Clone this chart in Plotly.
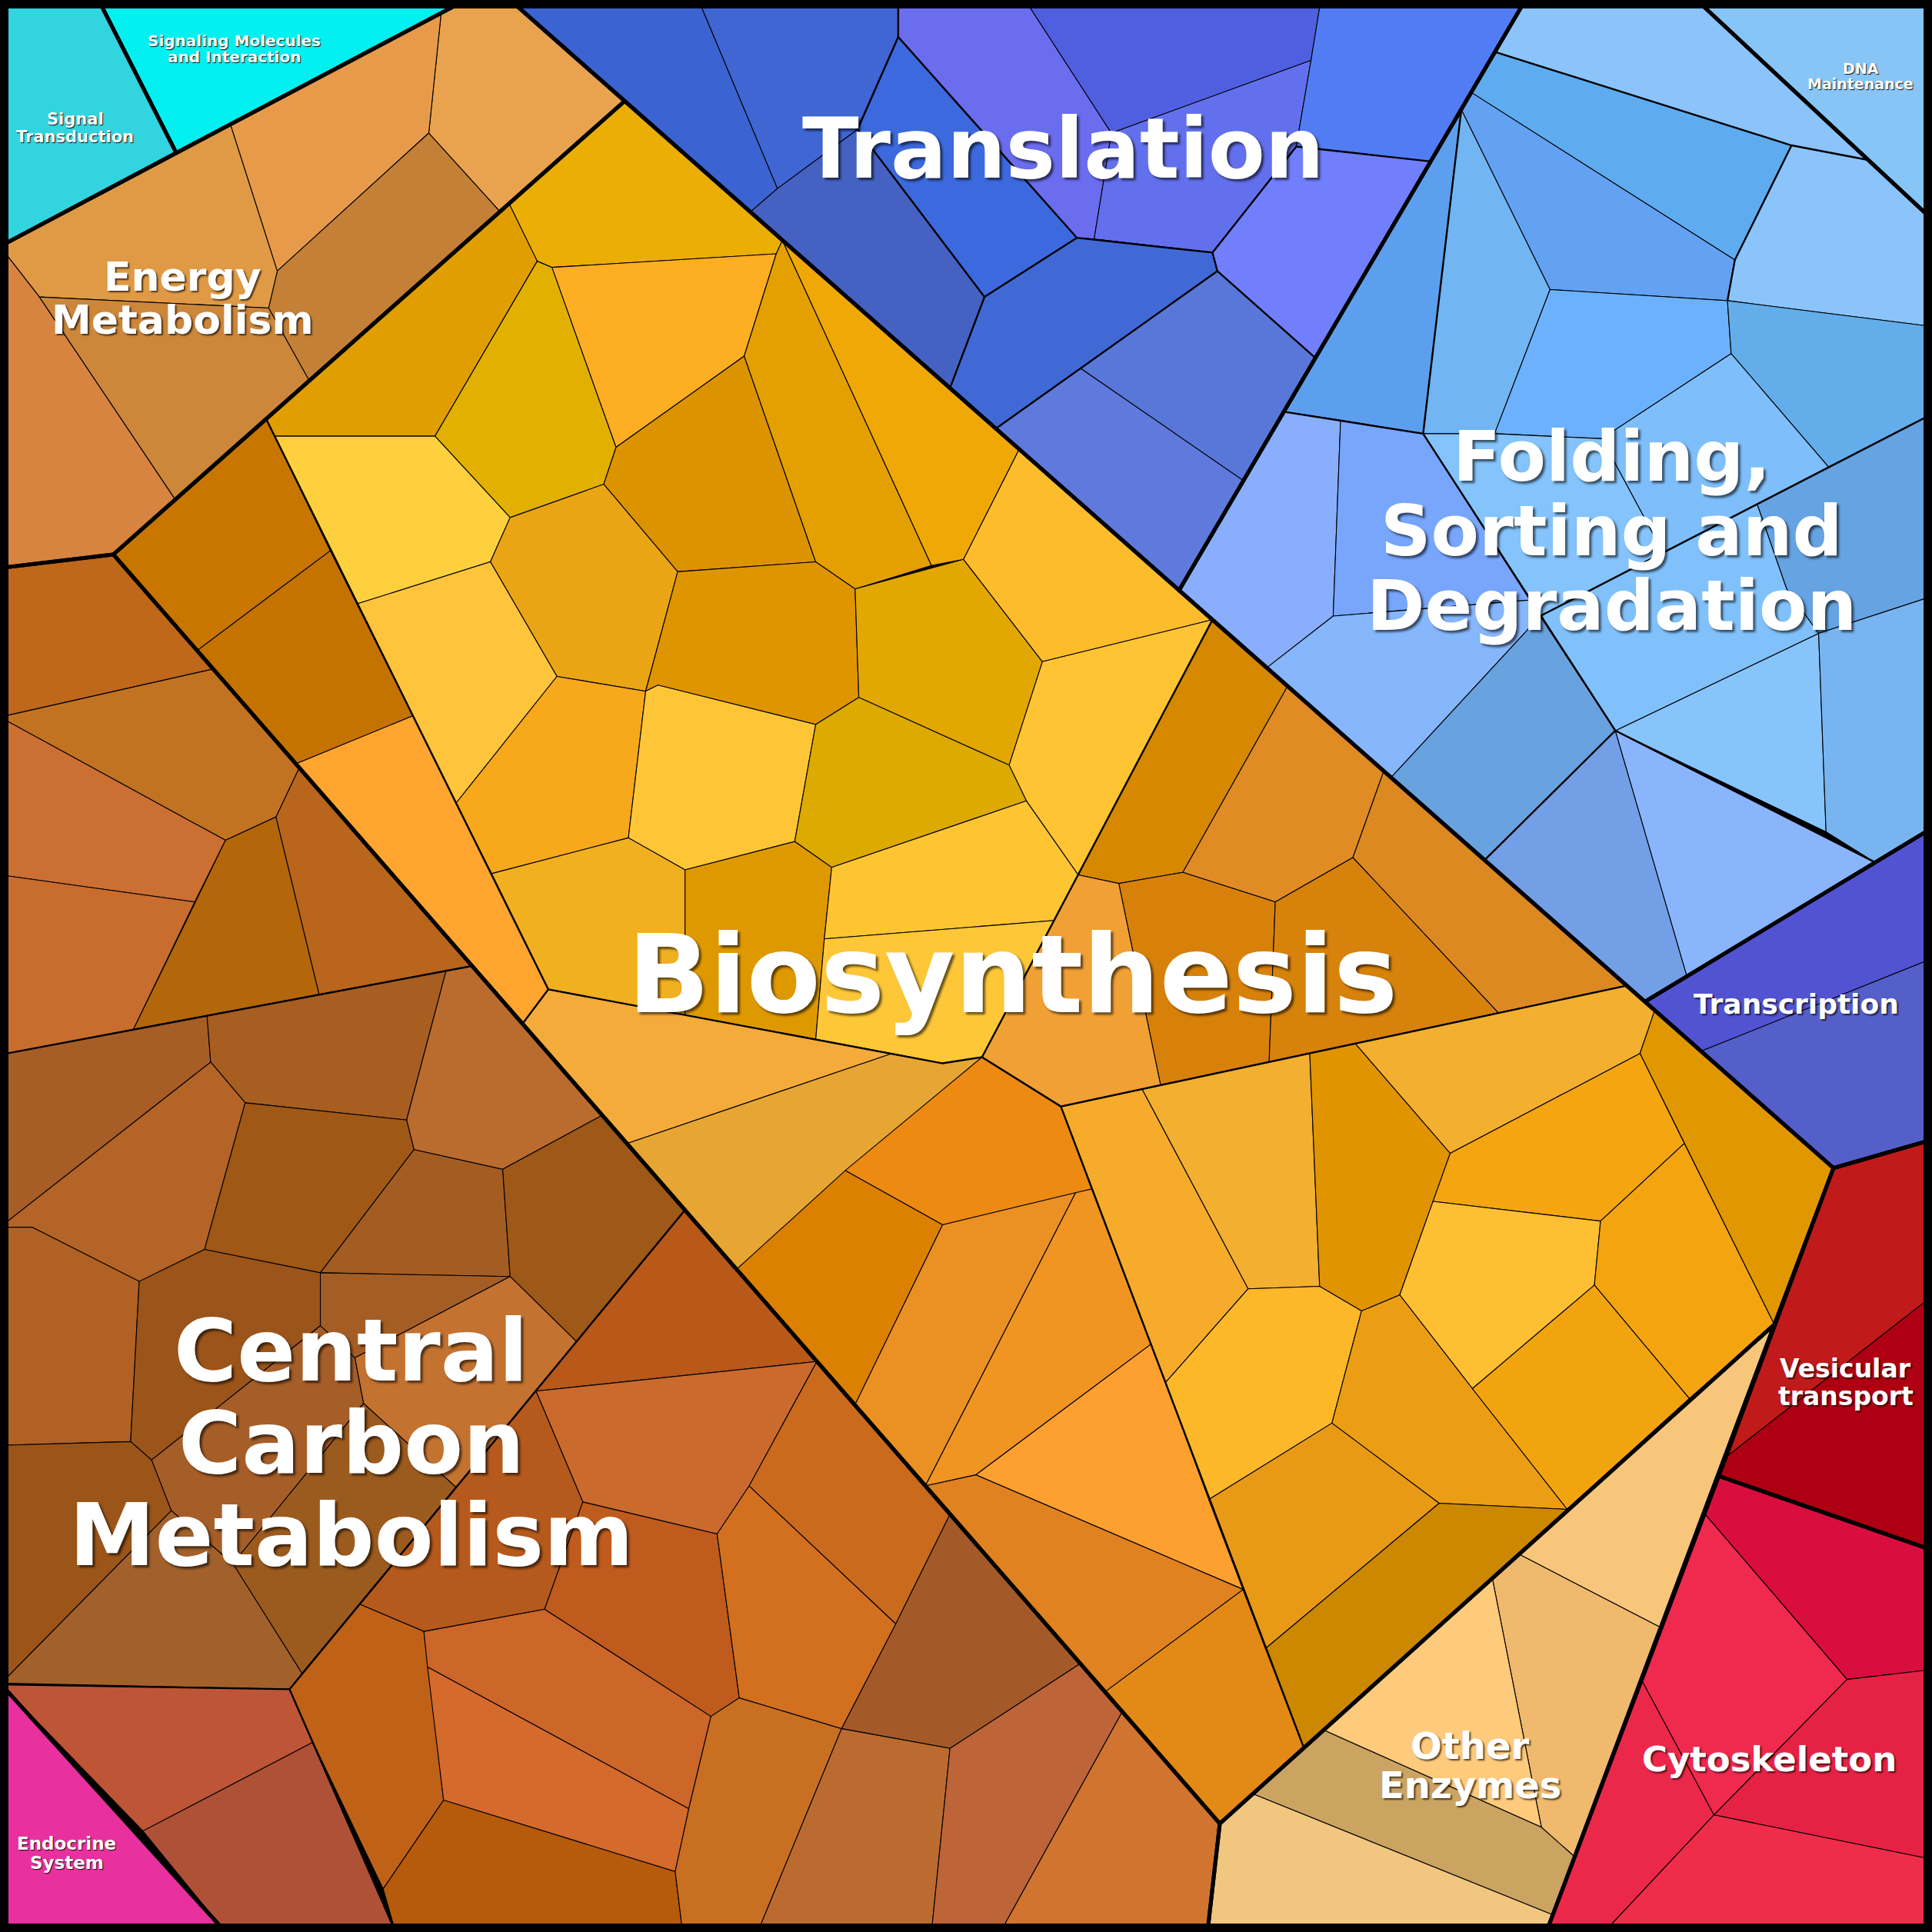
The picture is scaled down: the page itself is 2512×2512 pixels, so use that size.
import plotly.graph_objects as go

# ---------------- data (display units, 0..1568, y downwards) ----------------
region_names = ["Signal Transduction", "Signaling Molecules and Interaction", "Energy Metabolism",
                "Translation", "DNA Maintenance", "Folding, Sorting and Degradation", "Transcription",
                "Vesicular transport", "Cytoskeleton", "Other Enzymes", "Biosynthesis",
                "Central Carbon Metabolism", "Endocrine System"]
region_polys = [
    [(0, 0), (80, 0), (143, 124), (0, 200)],
    [(80, 0), (378, 0), (143, 124)],
    [(0, 200), (378, 0), (414, 0), (507, 82), (92, 450), (0, 461)],
    [(414, 0), (1238, 0), (957, 479)],
    [(1377, 0), (1568, 0), (1568, 178)],
    [(1238, 0), (1377, 0), (1568, 178), (1568, 672), (1335, 813), (957, 479)],
    [(1335, 813), (1568, 672), (1568, 925), (1488, 948)],
    [(1488, 948), (1568, 925), (1568, 1258), (1395, 1198)],
    [(1395, 1198), (1568, 1258), (1568, 1568), (1255, 1568)],
    [(1440, 1075), (1255, 1568), (980, 1568), (990, 1480)],
    [(507, 82), (1488, 948), (1440, 1075), (990, 1480), (92, 450)],
    [(0, 461), (92, 450), (990, 1480), (980, 1568), (183, 1568), (0, 1366)],
    [(0, 1366), (183, 1568), (0, 1568)],
]

signal_colors = ["#32D4E0"]
signal_cells = [[(0, 0), (80, 0), (143, 124), (0, 200)]]
signaling_colors = ["#03F0F0"]
signaling_cells = [[(80, 0), (378, 0), (143, 124)]]
dna_colors = ["#86C5F5"]
dna_cells = [[(1377, 0), (1568, 0), (1568, 178)]]
endocrine_colors = ["#E8309E"]
endocrine_cells = [[(0, 1366), (183, 1568), (0, 1568)]]

energy_colors = ["#E9A34F", "#E79B4A", "#C48037", "#E09A46", "#D88441", "#CD873A"]
energy_cells = [
    [(358, 11), (378, 0), (414, 0), (507, 82), (406, 172), (348, 108)],
    [(187, 101), (358, 11), (348, 108), (225, 220)],
    [(348, 108), (406, 172), (251, 309), (218, 250), (225, 220)],
    [(0, 200), (187, 101), (225, 220), (218, 250), (32, 241)],
    [(0, 200), (32, 241), (142, 405), (92, 450), (0, 461)],
    [(32, 241), (218, 250), (251, 309), (142, 405)],
]

translation_colors = ["#3B63D1", "#4066D4", "#4562C2", "#3C69DD", "#6A6DEE", "#4F5FDF",
                      "#6370EE", "#527CF4", "#717FFC", "#4169D6", "#5977D8", "#5F7ADC"]
translation_cells = [
    [(414, 0), (567, 0), (631, 153), (609, 172)],
    [(567, 0), (729, 0), (729, 30), (696, 105), (631, 153)],
    [(609, 172), (631, 153), (696, 105), (799, 241), (771, 315)],
    [(729, 30), (874, 193), (799, 241), (696, 105)],
    [(729, 0), (832, 0), (902, 108), (888, 194), (874, 193), (729, 30)],
    [(832, 0), (1072, 0), (1064, 49), (902, 108)],
    [(902, 108), (1064, 49), (1052, 119), (984, 205), (888, 194)],
    [(1072, 0), (1238, 0), (1161, 131), (1052, 119), (1064, 49)],
    [(1052, 119), (1161, 131), (1067, 290), (988, 220), (984, 205)],
    [(799, 241), (874, 193), (888, 194), (984, 205), (988, 220), (877, 299), (808, 348), (771, 315)],
    [(988, 220), (1067, 290), (1009, 390), (877, 299)],
    [(877, 299), (1009, 390), (957, 479), (808, 348)],
]

folding_colors = ["#8BC3FB", "#5EACEF", "#63A2F3", "#8AC4FB", "#71B5F2", "#5C9FEE", "#6CB1FD",
                  "#63AEEA", "#7EBEFB", "#65A3E3", "#89AEFD", "#77A6FC", "#84C3FB", "#86B6FC",
                  "#68A2DF", "#88C4FC", "#78B5F0", "#739FE6", "#8AB5FD", "#80C1FB"]
folding_cells = [
    [(1238, 0), (1377, 0), (1517, 130), (1454, 118), (1213, 42)],
    [(1213, 42), (1454, 118), (1408, 211), (1194, 75)],
    [(1194, 75), (1408, 211), (1402, 244), (1258, 235), (1186, 89)],
    [(1454, 118), (1517, 130), (1568, 178), (1568, 265), (1402, 244), (1408, 211)],
    [(1186, 89), (1258, 235), (1213, 352), (1155, 352)],
    [(1186, 89), (1155, 352), (1041, 334)],
    [(1258, 235), (1402, 244), (1405, 287), (1300, 356), (1213, 352)],
    [(1402, 244), (1568, 265), (1568, 336), (1484, 379), (1405, 287)],
    [(1405, 287), (1484, 379), (1350, 449), (1300, 356)],
    [(1484, 379), (1568, 336), (1568, 484), (1476, 514), (1450, 478), (1426, 409)],
    [(1041, 334), (1088, 341), (1082, 500), (1028, 542), (957, 479)],
    [(1088, 341), (1155, 352), (1242, 487), (1082, 500)],
    [(1155, 352), (1213, 352), (1300, 356), (1350, 449), (1250, 500)],
    [(1028, 542), (1082, 500), (1242, 487), (1250, 500), (1129, 631)],
    [(1129, 631), (1250, 500), (1311, 593), (1205, 698)],
    [(1311, 593), (1476, 514), (1482, 675)],
    [(1476, 514), (1568, 484), (1568, 672), (1522, 700), (1482, 675)],
    [(1205, 698), (1311, 593), (1369, 792), (1335, 813)],
    [(1311, 593), (1522, 700), (1369, 792)],
    [(1426, 409), (1450, 478), (1476, 514), (1311, 593), (1250, 500)],
]

transcription_colors = ["#5253D3", "#545FC9"]
transcription_cells = [
    [(1335, 813), (1568, 672), (1568, 778), (1381, 853)],
    [(1381, 853), (1568, 778), (1568, 925), (1488, 948)],
]

vesicular_colors = ["#C01A1A", "#AE0012"]
vesicular_cells = [
    [(1488, 948), (1568, 925), (1568, 1052), (1399, 1184)],
    [(1399, 1184), (1568, 1052), (1568, 1258), (1395, 1198)],
]

cytoskeleton_colors = ["#DA0D3F", "#F0294F", "#E62244", "#EC284A", "#EF2D4B"]
cytoskeleton_cells = [
    [(1395, 1198), (1568, 1258), (1568, 1355), (1499, 1363), (1383, 1228)],
    [(1383, 1228), (1499, 1363), (1391, 1473), (1332, 1363)],
    [(1499, 1363), (1568, 1355), (1568, 1509), (1391, 1473)],
    [(1332, 1363), (1391, 1473), (1302, 1568), (1255, 1568)],
    [(1391, 1473), (1568, 1509), (1568, 1568), (1302, 1568)],
]

enzymes_colors = ["#F8C67B", "#EFBA6D", "#FECA7B", "#CBA461", "#F1C67F"]
enzymes_cells = [
    [(1440, 1075), (1348, 1321), (1234, 1262), (1211, 1280)],
    [(1234, 1262), (1348, 1321), (1278, 1507), (1251, 1483), (1211, 1280)],
    [(1211, 1280), (1251, 1483), (1074, 1404)],
    [(1074, 1404), (1251, 1483), (1278, 1507), (1260, 1554), (1017, 1456)],
    [(1017, 1456), (1260, 1554), (1255, 1568), (980, 1568), (990, 1480)],
]

biosynthesis_colors = [
    "#C87600", "#C47200", "#FFA530",
    "#EBAE05", "#E09E00", "#E2B000", "#FEAE23", "#FED03E", "#DC9300", "#E3A000", "#EFA806",
    "#EAA515", "#FEC43B", "#DF9500", "#E2A700", "#FDBC2C", "#FEC434", "#F7A81B", "#FEC636",
    "#DCAA00", "#F1B020", "#DF9900", "#FEC532", "#FDC737",
    "#D68800", "#E08B24", "#DC8921", "#D8810A", "#D7820B", "#F0A034",
    "#F5AB3A", "#E7A633", "#EC8A12", "#DB8000", "#EB9023", "#F09422", "#FEA02F", "#E0821F", "#E38915",
    "#F6AB2A", "#F2AF30", "#E09400", "#F3AF2F", "#E19800", "#F4A50F", "#FEBF33", "#F3A40F",
    "#FDB82A", "#EB9E14", "#F2A40F", "#E89A17", "#CB8800",
]
biosynthesis_cells = [
    [(216, 340), (268, 447), (160, 528), (92, 450)],
    [(268, 447), (335, 581), (240, 620), (160, 528)],
    [(335, 581), (445, 803), (424, 831), (240, 620)],
    [(413, 165), (507, 82), (635, 195), (630, 206), (448, 217), (436, 212)],
    [(216, 340), (413, 165), (436, 212), (353, 354), (223, 354)],
    [(436, 212), (448, 217), (500, 363), (490, 393), (414, 420), (353, 354)],
    [(448, 217), (630, 206), (604, 289), (500, 363)],
    [(223, 354), (353, 354), (414, 420), (398, 456), (290, 490)],
    [(500, 363), (604, 289), (662, 456), (550, 464), (490, 393)],
    [(604, 289), (630, 206), (635, 195), (756, 459), (694, 478), (662, 456)],
    [(635, 195), (827, 365), (782, 454), (756, 459)],
    [(398, 456), (414, 420), (490, 393), (550, 464), (524, 561), (452, 549)],
    [(290, 490), (398, 456), (452, 549), (370, 652)],
    [(550, 464), (662, 456), (694, 478), (697, 566), (662, 588), (534, 556), (524, 561)],
    [(694, 478), (782, 454), (846, 537), (819, 621), (697, 566)],
    [(782, 454), (827, 365), (984, 503), (846, 537)],
    [(846, 537), (984, 503), (875, 710), (833, 650), (819, 621)],
    [(370, 652), (452, 549), (524, 561), (510, 680), (399, 709)],
    [(524, 561), (534, 556), (662, 588), (645, 683), (556, 706), (510, 680)],
    [(662, 588), (697, 566), (819, 621), (833, 650), (675, 704), (645, 683)],
    [(399, 709), (510, 680), (556, 706), (556, 824), (445, 803)],
    [(556, 706), (645, 683), (675, 704), (669, 762), (662, 844), (556, 824)],
    [(675, 704), (833, 650), (875, 710), (856, 747), (669, 762)],
    [(669, 762), (856, 747), (797, 858), (765, 863), (662, 844)],
    [(984, 503), (1045, 557), (960, 708), (908, 717), (875, 710)],
    [(1045, 557), (1123, 626), (1098, 696), (1035, 732), (960, 708)],
    [(1123, 626), (1320, 800), (1216, 822), (1098, 696)],
    [(960, 708), (1035, 732), (1030, 862), (942, 881), (908, 717)],
    [(1035, 732), (1098, 696), (1216, 822), (1030, 862)],
    [(875, 710), (908, 717), (942, 881), (861, 898), (797, 858)],
    [(424, 831), (445, 803), (724, 855), (509, 928)],
    [(509, 928), (724, 855), (765, 863), (797, 858), (598, 1030)],
    [(797, 858), (861, 898), (886, 965), (765, 994), (686, 950)],
    [(686, 950), (765, 994), (694, 1140), (598, 1030)],
    [(765, 994), (873, 968), (751, 1206), (694, 1140)],
    [(873, 968), (886, 965), (934, 1091), (792, 1197), (751, 1206)],
    [(792, 1197), (934, 1091), (1009, 1290)],
    [(751, 1206), (792, 1197), (1009, 1290), (897, 1373)],
    [(897, 1373), (1009, 1290), (1058, 1418), (990, 1480)],
    [(861, 898), (927, 884), (1013, 1046), (946, 1122)],
    [(927, 884), (1063, 855), (1071, 1044), (1013, 1046)],
    [(1063, 855), (1100, 847), (1177, 936), (1136, 1051), (1105, 1064), (1071, 1044)],
    [(1100, 847), (1320, 800), (1343, 820), (1331, 855), (1177, 936)],
    [(1343, 820), (1488, 948), (1440, 1075), (1367, 928), (1331, 855)],
    [(1177, 936), (1331, 855), (1367, 928), (1299, 991), (1163, 975)],
    [(1163, 975), (1299, 991), (1294, 1043), (1195, 1127), (1136, 1051)],
    [(1299, 991), (1367, 928), (1440, 1075), (1371, 1135), (1294, 1043)],
    [(1013, 1046), (1071, 1044), (1105, 1064), (1081, 1155), (981, 1217), (946, 1122)],
    [(1105, 1064), (1136, 1051), (1195, 1127), (1272, 1225), (1168, 1220), (1081, 1155)],
    [(1195, 1127), (1294, 1043), (1371, 1135), (1272, 1225)],
    [(981, 1217), (1081, 1155), (1168, 1220), (1027, 1338)],
    [(1168, 1220), (1272, 1225), (1058, 1418), (1027, 1338)],
]

carbon_colors = [
    "#BF671A", "#C17322", "#CB6F32", "#C86D2D", "#B3660A", "#B9651B",
    "#A65D26", "#A85E20", "#B96C2E", "#B36426", "#9F5815", "#A35D22", "#9E5817",
    "#B06123", "#9B5419", "#A45E25", "#C47230", "#A65E28", "#9C5B1E", "#A2612B", "#9C5519",
    "#BE5536", "#AF5137", "#BF6217", "#CD6629", "#D46A2C", "#B65A0C", "#B85819", "#CA6A2D",
    "#B55A1C", "#BF5B1C", "#C96A1D", "#D2701F", "#A45A28", "#C96F21", "#BB6B30", "#BD6438", "#D1742F",
]
carbon_cells = [
    [(0, 461), (92, 450), (173, 543), (0, 582)],
    [(0, 582), (173, 543), (243, 623), (224, 663), (183, 682)],
    [(0, 582), (183, 682), (158, 732), (0, 710)],
    [(0, 710), (158, 732), (108, 836), (0, 856)],
    [(183, 682), (224, 663), (259, 807), (108, 836)],
    [(224, 663), (243, 623), (383, 784), (259, 807)],
    [(0, 856), (168, 824), (171, 862), (0, 996)],
    [(168, 824), (362, 788), (330, 909), (199, 895), (171, 862)],
    [(362, 788), (383, 784), (489, 905), (408, 949), (336, 933), (330, 909)],
    [(0, 996), (171, 862), (199, 895), (166, 1014), (113, 1040), (26, 996)],
    [(199, 895), (330, 909), (336, 933), (260, 1033), (166, 1014)],
    [(336, 933), (408, 949), (414, 1036), (260, 1033)],
    [(408, 949), (489, 905), (556, 982), (468, 1089), (414, 1036)],
    [(0, 996), (26, 996), (113, 1040), (106, 1170), (0, 1173)],
    [(113, 1040), (166, 1014), (260, 1033), (260, 1076), (123, 1185), (106, 1170)],
    [(260, 1033), (414, 1036), (288, 1102), (260, 1076)],
    [(288, 1102), (414, 1036), (468, 1089), (370, 1207), (295, 1139)],
    [(260, 1076), (288, 1102), (295, 1139), (189, 1269), (139, 1226), (123, 1185)],
    [(295, 1139), (370, 1207), (245, 1358), (189, 1269)],
    [(0, 1367), (139, 1226), (189, 1269), (245, 1358), (235, 1371)],
    [(0, 1173), (106, 1170), (123, 1185), (139, 1226), (0, 1367)],
    [(0, 1366), (235, 1371), (254, 1414), (116, 1486)],
    [(116, 1486), (254, 1414), (321, 1568), (183, 1568)],
    [(292, 1302), (344, 1324), (360, 1461), (311, 1533), (254, 1414), (235, 1371)],
    [(344, 1324), (442, 1306), (577, 1393), (559, 1468), (347, 1353)],
    [(347, 1353), (559, 1468), (548, 1519), (360, 1461)],
    [(311, 1533), (360, 1461), (548, 1519), (554, 1568), (321, 1568)],
    [(556, 982), (663, 1105), (435, 1129)],
    [(435, 1129), (663, 1105), (608, 1206), (582, 1245), (473, 1219)],
    [(292, 1302), (435, 1129), (473, 1219), (442, 1306), (344, 1324)],
    [(473, 1219), (582, 1245), (600, 1378), (577, 1393), (442, 1306)],
    [(663, 1105), (771, 1229), (727, 1318), (608, 1206)],
    [(608, 1206), (727, 1318), (683, 1403), (600, 1378), (582, 1245)],
    [(727, 1318), (771, 1229), (877, 1350), (771, 1419), (683, 1403)],
    [(577, 1393), (600, 1378), (683, 1403), (615, 1568), (554, 1568), (548, 1519), (559, 1468)],
    [(683, 1403), (771, 1419), (756, 1568), (615, 1568)],
    [(771, 1419), (877, 1350), (911, 1389), (812, 1568), (756, 1568)],
    [(911, 1389), (990, 1480), (980, 1568), (812, 1568)],
]

# second-level group boundaries (medium lines)
group_lines = [
    [(216, 340), (445, 803), (424, 831)],
    [(445, 803), (765, 863), (797, 858)],
    [(984, 503), (797, 858), (861, 898), (1320, 800)],
    [(861, 898), (1058, 1418)],
    [(0, 856), (383, 784)],
    [(556, 982), (235, 1371), (0, 1367)],
    [(235, 1371), (321, 1568)],
    [(1041, 334), (1155, 352), (1311, 593)],
    [(1186, 89), (1155, 352)],
    [(1568, 336), (1250, 500)],
    [(1205, 698), (1311, 593), (1522, 700)],
    [(1213, 42), (1454, 118), (1517, 130)],
    [(1454, 118), (1408, 211), (1402, 244)],
    [(729, 0), (729, 30), (874, 193), (984, 205), (988, 220), (808, 348)],
    [(729, 30), (696, 105), (799, 241), (771, 315)],
    [(874, 193), (799, 241)],
    [(984, 205), (1052, 119), (1161, 131)],
    [(988, 220), (1067, 290)],
]

# label blocks: lines, centre x, centre y of block, font size (px)
label_blocks = [
    (["Translation"], 863, 121, 108),
    (["Biosynthesis"], 822, 791, 140),
    (["Central", "Carbon", "Metabolism"], 285, 1171, 112),
    (["Folding,", "Sorting and", "Degradation"], 1308, 431, 91),
    (["Energy", "Metabolism"], 148, 242, 52),
    (["Other", "Enzymes"], 1193, 1433, 48),
    (["Cytoskeleton"], 1436, 1428, 45),
    (["Transcription"], 1458, 815, 36),
    (["Vesicular", "transport"], 1498, 1122, 33),
    (["DNA", "Maintenance"], 1510, 62, 19),
    (["Signal", "Transduction"], 61, 104, 21),
    (["Signaling Molecules", "and Interaction"], 190, 39.5, 20),
    (["Endocrine", "System"], 54, 1504, 23),
]

all_groups = [
    (signal_colors, signal_cells), (signaling_colors, signaling_cells), (energy_colors, energy_cells),
    (translation_colors, translation_cells), (dna_colors, dna_cells), (folding_colors, folding_cells),
    (transcription_colors, transcription_cells), (vesicular_colors, vesicular_cells),
    (cytoskeleton_colors, cytoskeleton_cells), (enzymes_colors, enzymes_cells),
    (biosynthesis_colors, biosynthesis_cells), (carbon_colors, carbon_cells),
    (endocrine_colors, endocrine_cells),
]

# ---------------- figure ----------------
PX_PER_UNIT = 2512 / 1568.0
LINE_GAP = 1.07

fig = go.Figure()


def closed(poly):
    xs = [p[0] for p in poly] + [poly[0][0]]
    ys = [p[1] for p in poly] + [poly[0][1]]
    return xs, ys


for colors, cells in all_groups:
    for col, poly in zip(colors, cells):
        xs, ys = closed(poly)
        fig.add_trace(go.Scatter(x=xs, y=ys, mode="lines", fill="toself", fillcolor=col,
                                 line=dict(color="black", width=1.1), hoverinfo="skip",
                                 showlegend=False))

gx, gy = [], []
for line in group_lines:
    gx += [p[0] for p in line] + [None]
    gy += [p[1] for p in line] + [None]
fig.add_trace(go.Scatter(x=gx, y=gy, mode="lines", line=dict(color="black", width=2.4),
                         hoverinfo="skip", showlegend=False))

rx, ry = [], []
for poly in region_polys:
    xs, ys = closed(poly)
    rx += xs + [None]
    ry += ys + [None]
fig.add_trace(go.Scatter(x=rx, y=ry, mode="lines", line=dict(color="black", width=5),
                         hoverinfo="skip", showlegend=False))

for lines, cx, cy, size in label_blocks:
    if size >= 90:
        shadow = "3px 3px 3px rgba(0,0,0,0.6)"
    elif size >= 30:
        shadow = "2px 2px 2px rgba(0,0,0,0.65)"
    else:
        shadow = "1px 1px 1px rgba(0,0,0,0.9)"
    step = size * LINE_GAP / PX_PER_UNIT
    n = len(lines)
    for i, text in enumerate(lines):
        y = cy + (i - (n - 1) / 2.0) * step
        fig.add_annotation(x=cx, y=y, xref="x", yref="y", text="<b>" + text + "</b>",
                           showarrow=False, xanchor="center", yanchor="middle",
                           font=dict(family="DejaVu Sans", size=size, color="white", shadow=shadow))

fig.add_shape(type="rect", xref="paper", yref="paper", x0=0, y0=0, x1=1, y1=1,
              line=dict(color="black", width=22), layer="above")

fig.update_layout(
    width=2512, height=2512, margin=dict(l=0, r=0, t=0, b=0),
    paper_bgcolor="black", plot_bgcolor="black",
    xaxis=dict(range=[0, 1568], visible=False, fixedrange=True),
    yaxis=dict(range=[1568, 0], visible=False, fixedrange=True),
    showlegend=False,
)

fig.write_html("out.html")
